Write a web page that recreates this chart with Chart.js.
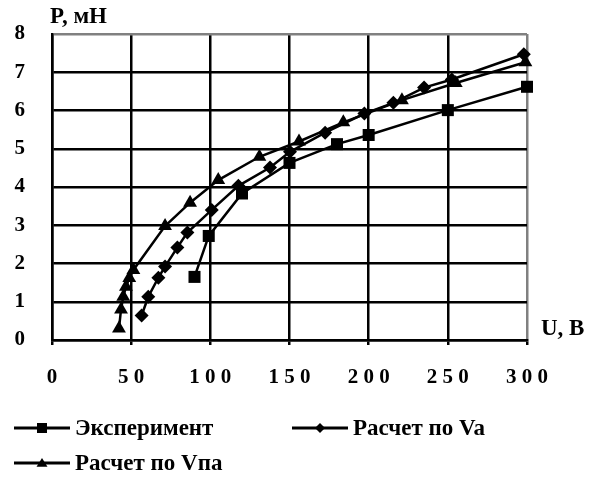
<!DOCTYPE html>
<html>
<head>
<meta charset="utf-8">
<script src="https://cdn.jsdelivr.net/npm/chart.js@4/dist/chart.umd.min.js"></script>
<style>
  html, body { margin: 0; padding: 0; background: #fff; }
  #wrap { width: 595px; height: 479px; }
</style>
</head>
<body>
<div id="wrap"><canvas id="myChart" width="595" height="479"></canvas></div>
<script>
const expU = [90, 99, 120, 150, 180, 200, 250, 300];
const expP = [1.65, 2.72, 3.83, 4.63, 5.12, 5.36, 6.01, 6.62];

const vaU = [56.6, 60.8, 67.2, 71.4, 79.2, 85.5, 100.9, 117.7, 137.7, 150.3, 172.5, 197.3, 215.6, 235, 252.5, 298];
const vaP = [0.64, 1.13, 1.63, 1.92, 2.42, 2.81, 3.40, 4.03, 4.51, 4.92, 5.42, 5.92, 6.20, 6.60, 6.81, 7.47];

const vpaU = [42.3, 43.6, 45, 46.7, 48.8, 51.4, 71.4, 87.2, 105, 131, 156, 184, 221, 255, 299];
const vpaP = [0.30, 0.80, 1.13, 1.39, 1.62, 1.83, 2.98, 3.59, 4.18, 4.79, 5.19, 5.69, 6.27, 6.72, 7.26];

const seriesNames = ['Эксперимент', 'Расчет по Va', 'Расчет по Vпа'];
const seriesStyles = ['rect', 'rectRot', 'triangle'];

const FONT = 'Liberation Serif';

function toPoints(xs, ys) {
    return xs.map((x, i) => ({ x: x, y: ys[i] }));
}

function marker(ctx, style, x, y, r) {
    ctx.beginPath();
    if (style === 'rect') {
        ctx.rect(x - r, y - r, 2 * r, 2 * r);
    } else if (style === 'rectRot') {
        ctx.moveTo(x, y - r);
        ctx.lineTo(x + r, y);
        ctx.lineTo(x, y + r);
        ctx.lineTo(x - r, y);
        ctx.closePath();
    } else {
        ctx.moveTo(x, y - r);
        ctx.lineTo(x + r * 1.1, y + r * 0.75);
        ctx.lineTo(x - r * 1.1, y + r * 0.75);
        ctx.closePath();
    }
    ctx.fill();
}

// axis titles and the legend under the plot
const extras = {
    id: 'extras',
    afterDraw(chart) {
        const c = chart.ctx;
        c.save();
        c.fillStyle = '#000';
        c.strokeStyle = '#000';
        c.font = 'bold 23px "Liberation Serif"';
        c.textBaseline = 'alphabetic';
        c.textAlign = 'left';
        c.fillText('P, мН', 50, 23);
        c.fillText('U, В', 541, 335);

        const rows = [
            { x: 14, y: 428 },
            { x: 292, y: 428 },
            { x: 14, y: 463 }
        ];
        seriesNames.forEach((name, i) => {
            const p = rows[i];
            c.lineWidth = 3;
            c.beginPath();
            c.moveTo(p.x, p.y);
            c.lineTo(p.x + 56, p.y);
            c.stroke();
            marker(c, seriesStyles[i], p.x + 28, p.y, 5);
            c.textBaseline = 'middle';
            c.fillText(name, p.x + 61, p.y + 1);
        });
        c.restore();
    }
};

const ds = (label, pts, style, r) => ({
    label: label,
    data: pts,
    borderColor: '#000',
    backgroundColor: '#000',
    borderWidth: 2.5,
    pointStyle: style,
    pointRadius: r,
    pointBorderWidth: 0,
    tension: 0,
    clip: false
});

const ctx = document.getElementById('myChart');
const chart = new Chart(ctx, {
    type: 'line',
    data: {
        datasets: [
            ds(seriesNames[0], toPoints(expU, expP), 'rect', 8.5),
            ds(seriesNames[1], toPoints(vaU, vaP), 'rectRot', 7),
            ds(seriesNames[2], toPoints(vpaU, vpaP), 'triangle', 8)
        ]
    },
    options: {
        responsive: false,
        animation: false,
        layout: { padding: { left: 0, right: 68, top: 34, bottom: 79 } },
        plugins: { legend: { display: false }, tooltip: { enabled: false } },
        scales: {
            x: {
                type: 'linear',
                min: 0,
                max: 300,
                afterFit: s => {
                    s.height = 60;
                    s.paddingLeft = 0;
                    s.paddingRight = 0;
                },
                border: { color: '#000', width: 2.5 },
                grid: {
                    color: c => c.tick && c.tick.value === 300 ? '#808080' : '#000',
                    lineWidth: 2.5,
                    drawTicks: true,
                    tickLength: 5,
                    tickColor: '#000'
                },
                ticks: {
                    stepSize: 50,
                    padding: 20,
                    color: '#000',
                    font: { family: FONT, size: 21, weight: 'bold' },
                    callback: v => String(v).split('').join(' ')
                }
            },
            y: {
                min: 0,
                max: 8,
                afterFit: s => {
                    s.width = 52;
                    s.paddingTop = 0;
                    s.paddingBottom = 0;
                },
                border: { color: '#000', width: 2.5 },
                grid: {
                    color: c => c.tick && c.tick.value === 8 ? '#808080' : '#000',
                    lineWidth: 2.5,
                    drawTicks: false
                },
                ticks: {
                    stepSize: 1,
                    padding: 27,
                    color: '#000',
                    font: { family: FONT, size: 21, weight: 'bold' }
                }
            }
        }
    },
    plugins: [extras]
});
</script>
</body>
</html>
